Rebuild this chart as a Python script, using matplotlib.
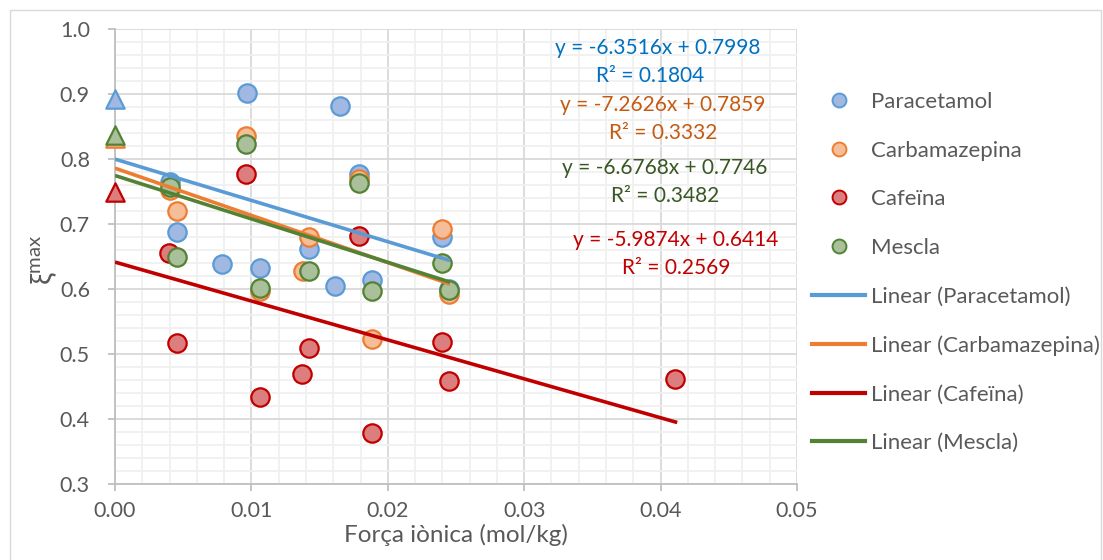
import matplotlib
matplotlib.use("Agg")
import matplotlib.pyplot as plt
from matplotlib.lines import Line2D
from matplotlib.patches import Rectangle
import numpy as np

plt.rcParams['font.family'] = ['Lato', 'DejaVu Sans']
plt.rcParams['mathtext.default'] = 'regular'

# ---- data ----
series_names = ["Paracetamol", "Carbamazepina", "Cafeïna", "Mescla"]

para_x = [0.00403, 0.00452, 0.00782, 0.00966, 0.01063, 0.01422, 0.01613, 0.0165, 0.0179, 0.01882, 0.02395, 0.02449]
para_y = [0.765, 0.687, 0.638, 0.902, 0.633, 0.661, 0.605, 0.8815, 0.777, 0.614, 0.680, 0.600]
carb_x = [0.00403, 0.00452, 0.0096, 0.01063, 0.0138, 0.01422, 0.0179, 0.01882, 0.02395, 0.02449]
carb_y = [0.752, 0.720, 0.835, 0.597, 0.628, 0.680, 0.769, 0.523, 0.693, 0.593]
cafe_x = [0.00398, 0.00452, 0.0096, 0.01063, 0.01373, 0.01422, 0.0179, 0.01882, 0.02395, 0.02449, 0.04106]
cafe_y = [0.656, 0.517, 0.777, 0.434, 0.470, 0.509, 0.682, 0.379, 0.519, 0.458, 0.4615]
mesc_x = [0.00403, 0.00452, 0.0096, 0.01063, 0.01422, 0.0179, 0.01882, 0.02395, 0.02449]
mesc_y = [0.757, 0.650, 0.823, 0.601, 0.628, 0.763, 0.597, 0.640, 0.598]

# points at zero ionic strength (triangles)
zero_y = [0.893, 0.832, 0.750, 0.837]

# trendline coefficients (slope, intercept, R2)
slopes = [-6.3516, -7.2626, -5.9874, -6.6768]
intercepts = [0.7998, 0.7859, 0.6414, 0.7746]
r2 = [0.1804, 0.3332, 0.2569, 0.3482]
line_xmax = [0.02456, 0.02456, 0.04122, 0.02456]

xs = [para_x, carb_x, cafe_x, mesc_x]
ys = [para_y, carb_y, cafe_y, mesc_y]

edge_cols = ["#5B9BD5", "#ED7D31", "#C00000", "#548235"]
fill_cols = ["#A1B8E2", "#F6BE98", "#DC7E7E", "#A9C09A"]
line_cols = ["#5B9BD5", "#ED7D31", "#C00000", "#548235"]
text_cols = ["#0070C0", "#C55A11", "#C00000", "#385723"]

W, H = 1103, 560
fig = plt.figure(figsize=(W/100, H/100), dpi=100)
ax = fig.add_axes([115/W, 1-484/H, (797-115)/W, (484-29)/H])

ax.set_xlim(0, 0.05)
ax.set_ylim(0.3, 1.0)
ax.set_xticks(np.arange(0, 0.0501, 0.01))
ax.set_yticks(np.arange(0.3, 1.001, 0.1))
ax.set_xticks(np.arange(0, 0.0501, 0.002), minor=True)
ax.set_yticks(np.arange(0.3, 1.001, 0.02), minor=True)
ax.set_xticklabels([f"{v:.2f}" for v in np.arange(0, 0.0501, 0.01)])
ax.set_yticklabels([f"{v:.1f}" for v in np.arange(0.3, 1.001, 0.1)])
ax.grid(which='major', color='#D9D9D9', lw=1.3, zorder=0)
ax.grid(which='minor', color='#F0F0F0', lw=1.3, zorder=0)
ax.set_axisbelow(True)
for s in ['top', 'right']:
    ax.spines[s].set_visible(False)
for s in ['left', 'bottom']:
    ax.spines[s].set_color('#BFBFBF')
    ax.spines[s].set_linewidth(1.3)
ax.tick_params(which='major', length=5, width=1.3, color='#BFBFBF', labelsize=15.5,
               labelcolor='#595959')
ax.tick_params(axis='y', pad=13)
ax.tick_params(axis='x', pad=7)
ax.tick_params(which='minor', length=0)

ms = 175
for i in range(4):
    ax.scatter(xs[i], ys[i], s=ms, facecolor=fill_cols[i], edgecolor=edge_cols[i],
               linewidth=1.6, zorder=3, clip_on=False)
    ax.scatter([0], [zero_y[i]], s=ms, marker='^', facecolor=fill_cols[i],
               edgecolor=edge_cols[i], linewidth=1.6, zorder=3, clip_on=False)

for i in range(4):
    lx = np.array([0.0, line_xmax[i]])
    ax.plot(lx, slopes[i]*lx + intercepts[i], color=line_cols[i], lw=2.6,
            zorder=4, solid_capstyle='butt')

# equation labels (pixel positions: eq x, eq y, R2 x, R2 y)
eq_pos = [(658, 48, 650, 76), (663, 105, 663, 133), (676, 240, 676, 268), (665, 168, 665, 196)]
for i in range(4):
    ex, ey, rx, ry = eq_pos[i]
    fig.text(ex/W, 1-ey/H, f"y = {slopes[i]:.4f}x + {intercepts[i]:.4f}",
             color=text_cols[i], fontsize=15, ha='center', va='center')
    fig.text(rx/W, 1-ry/H, f"R² = {r2[i]:.4f}",
             color=text_cols[i], fontsize=15, ha='center', va='center')

ax.set_xlabel("Força iònica (mol/kg)", fontsize=17.5, color='#595959')
ax.xaxis.set_label_coords(0.5, -(535-484)/(484-29), transform=ax.transAxes)
ax.xaxis.label.set_va('center')
ax.set_ylabel("ξ$^{max}$", fontsize=21, color='#595959')
ax.yaxis.set_label_coords(-(115-44)/(797-115), (484-260)/(484-29), transform=ax.transAxes)
ax.yaxis.label.set_va('center')

handles = []
labels = []
for i in range(4):
    handles.append(Line2D([], [], ls='none', marker='o', markersize=10,
                          markerfacecolor=fill_cols[i], markeredgecolor=edge_cols[i],
                          markeredgewidth=1.4))
    labels.append(series_names[i])
for i in range(4):
    handles.append(Line2D([], [], color=line_cols[i], lw=3.0))
    labels.append(f"Linear ({series_names[i]})")
leg = fig.legend(handles, labels, loc='upper left', bbox_to_anchor=(803/W, 1-83/H),
                 frameon=False, fontsize=16, labelcolor='#595959', handlelength=2.4,
                 handletextpad=0.25, labelspacing=1.29, borderaxespad=0)

fig.patches.append(Rectangle((10/W, -0.05), (1101-10)/W, 1.05 - 10/H,
                             transform=fig.transFigure, fill=False, ec='#D9D9D9', lw=1.0))

fig.savefig("out.png", dpi=100)
